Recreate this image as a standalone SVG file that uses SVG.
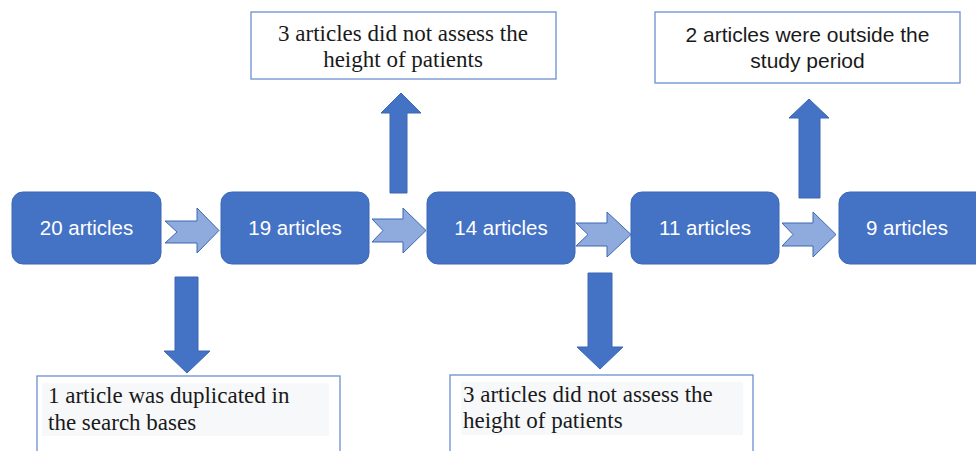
<svg xmlns="http://www.w3.org/2000/svg" width="976" height="451" viewBox="0 0 976 451">
<style>
.node{fill:#4472c4;stroke:#3d67b3;stroke-width:1}
.ntext{font-family:"Liberation Sans",Arial,sans-serif;font-size:20.5px;fill:#ffffff;text-anchor:middle}
.box{fill:#ffffff;stroke:#6a8fd0;stroke-width:1.3}
.bg{fill:#f7f8fa}
.serif{font-family:"Liberation Serif","Times New Roman",serif;font-size:23px;fill:#1a1a1a}
.sans{font-family:"Liberation Sans",Arial,sans-serif;font-size:21px;fill:#1a1a1a;text-anchor:middle}
.harrow{fill:#8faadc;stroke:#3d67b3;stroke-width:1}
.varrow{fill:#4472c4;stroke:#3d67b3;stroke-width:1}
</style>
<rect width="976" height="451" fill="#ffffff"/>
<g id="connectors">
<polygon class="harrow" points="165,221 197,221 197,208 219,230.5 197,253 197,243 165,243 177,232"/>
<polygon class="harrow" points="372,219 403,219 403,208 426,230.5 403,253 403,242 372,242 383,230.5"/>
<polygon class="harrow" points="576,223 607,223 607,212 631,234.5 607,257 607,246 576,246 588,234.5"/>
<polygon class="harrow" points="782,223 813,223 813,212 836,234.5 813,257 813,246 782,246 793,234.5"/>
<polygon class="varrow" points="175,277 198,277 198,351 210,351 187,373 164,351 175,351"/>
<polygon class="varrow" points="390,193 407,193 407,113 421,113 401,93 381,113 390,113"/>
<polygon class="varrow" points="588,273 612,273 612,347 623,347 600,369 577,347 588,347"/>
<polygon class="varrow" points="799,198 820,198 820,118 829,118 809,99 789,118 799,118"/>
</g>
<g id="n20">
<rect class="node" x="12" y="192" width="149" height="72" rx="11"/>
<text class="ntext" x="86.5" y="235">20 articles</text>
</g>
<g id="n19">
<rect class="node" x="221" y="192" width="148" height="72" rx="11"/>
<text class="ntext" x="295" y="235">19 articles</text>
</g>
<g id="n14">
<rect class="node" x="427" y="192" width="148" height="72" rx="11"/>
<text class="ntext" x="501" y="235">14 articles</text>
</g>
<g id="n11">
<rect class="node" x="631" y="192" width="148" height="72" rx="11"/>
<text class="ntext" x="705" y="235">11 articles</text>
</g>
<g id="n9">
<rect class="node" x="839" y="192" width="150" height="72" rx="11"/>
<text class="ntext" x="907" y="235">9 articles</text>
</g>
<g id="ex_height_top">
<rect class="box" x="251" y="12" width="305" height="67"/>
<text class="serif" x="403" y="41" text-anchor="middle">3 articles did not assess the</text>
<text class="serif" x="403" y="67" text-anchor="middle">height of patients</text>
</g>
<g id="ex_period">
<rect class="box" x="655" y="12" width="305" height="71"/>
<text class="sans" x="807.5" y="42">2 articles were outside the</text>
<text class="sans" x="807.5" y="68">study period</text>
</g>
<g id="ex_duplicated">
<rect class="box" x="37" y="376" width="303" height="90"/>
<rect class="bg" x="42" y="383" width="287" height="53"/>
<text class="serif" x="48" y="403">1 article was duplicated in</text>
<text class="serif" x="48" y="430">the search bases</text>
</g>
<g id="ex_height_bottom">
<rect class="box" x="450" y="375" width="303" height="90"/>
<rect class="bg" x="461" y="382" width="282" height="53"/>
<text class="serif" x="463" y="402">3 articles did not assess the</text>
<text class="serif" x="463" y="428">height of patients</text>
</g>
</svg>
